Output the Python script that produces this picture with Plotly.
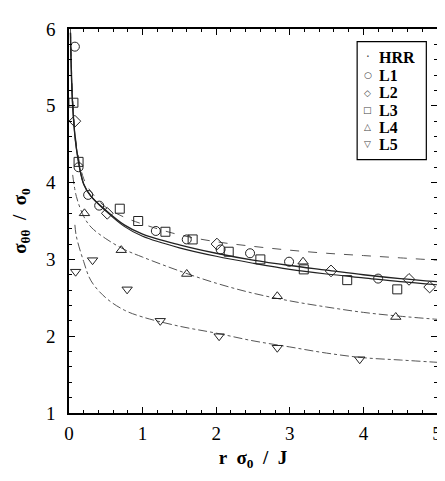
import plotly.graph_objects as go

# ---- data ----
l1_x = [0.08, 0.13, 0.26, 0.41, 1.18, 1.60, 2.06, 2.46, 2.99, 4.20]
l1_y = [5.77, 4.20, 3.84, 3.70, 3.37, 3.26, 3.13, 3.08, 2.97, 2.75]
l2_x = [0.08, 0.52, 2.01, 3.56, 4.62, 4.90]
l2_y = [4.80, 3.60, 3.20, 2.85, 2.74, 2.64]
l3_x = [0.06, 0.13, 0.69, 0.94, 1.31, 1.68, 2.17, 2.60, 3.19, 3.78, 4.46]
l3_y = [5.04, 4.27, 3.66, 3.50, 3.36, 3.26, 3.10, 3.00, 2.87, 2.73, 2.61]
l4_x = [0.21, 0.71, 1.60, 2.83, 3.18, 4.44]
l4_y = [3.60, 3.12, 2.81, 2.52, 2.97, 2.25]
l5_x = [0.09, 0.32, 0.79, 1.24, 2.04, 2.83, 3.95]
l5_y = [2.84, 2.99, 2.61, 2.20, 2.00, 1.85, 1.70]

curve_x = [0.02, 0.05, 0.1, 0.2, 0.3, 0.5, 0.75, 1, 1.5, 2, 2.5, 3, 3.5, 4, 4.5, 5]
hrr_y   = [5.95, 5.00, 4.45, 3.98, 3.82, 3.64, 3.45, 3.33, 3.19, 3.08, 2.99, 2.92, 2.86, 2.80, 2.75, 2.71]
fit2_y  = [5.95, 5.00, 4.45, 3.98, 3.82, 3.63, 3.43, 3.30, 3.15, 3.04, 2.95, 2.87, 2.81, 2.76, 2.71, 2.67]
top_y   = [6.00, 5.10, 4.50, 4.05, 3.88, 3.68, 3.55, 3.46, 3.32, 3.23, 3.17, 3.12, 3.08, 3.05, 3.02, 2.99]
l4c_x   = [0.05, 0.1, 0.2, 0.3, 0.5, 0.75, 1, 1.5, 2, 2.5, 3, 3.5, 4, 4.5, 5]
l4c_y   = [4.10, 3.82, 3.56, 3.42, 3.27, 3.13, 3.03, 2.85, 2.69, 2.56, 2.46, 2.38, 2.31, 2.26, 2.22]
l5c_x   = [0.08, 0.1, 0.2, 0.3, 0.5, 0.75, 1, 1.5, 2, 2.5, 3, 3.5, 4, 4.5, 5]
l5c_y   = [3.45, 3.30, 2.97, 2.72, 2.50, 2.34, 2.25, 2.13, 2.04, 1.94, 1.86, 1.78, 1.72, 1.69, 1.66]

x_ticks = [0, 1, 2, 3, 4, 5]
y_ticks = [1, 2, 3, 4, 5, 6]

legend_names = ["HRR", "L1", "L2", "L3", "L4", "L5"]
legend_symbols = ["·", "○", "◇", "□", "△", "▽"]

FONT = "Liberation Serif"
INK = "#222"

fig = go.Figure()

# curves
fig.add_trace(go.Scatter(x=curve_x, y=top_y, mode="lines", line=dict(color="#555", width=1, dash="dash", shape="spline"), showlegend=False))
fig.add_trace(go.Scatter(x=curve_x, y=hrr_y, mode="lines", line=dict(color=INK, width=1.4, shape="spline"), showlegend=False))
fig.add_trace(go.Scatter(x=curve_x, y=fit2_y, mode="lines", line=dict(color=INK, width=1.1, shape="spline"), showlegend=False))
fig.add_trace(go.Scatter(x=l4c_x, y=l4c_y, mode="lines", line=dict(color="#555", width=1, dash="dashdot", shape="spline"), showlegend=False))
fig.add_trace(go.Scatter(x=l5c_x, y=l5c_y, mode="lines", line=dict(color="#555", width=1, dash="dashdot", shape="spline"), showlegend=False))

for name, xs, ys, sym in [("L1", l1_x, l1_y, "circle-open"),
                          ("L2", l2_x, l2_y, "diamond-open"),
                          ("L3", l3_x, l3_y, "square-open"),
                          ("L4", l4_x, l4_y, "triangle-up-open"),
                          ("L5", l5_x, l5_y, "triangle-down-open")]:
    fig.add_trace(go.Scatter(x=xs, y=ys, mode="markers", name=name, showlegend=False,
                             marker=dict(symbol=sym, size=9, color=INK, line=dict(width=1, color=INK))))

# manual legend (box + text)
fig.add_shape(type="rect", xref="paper", yref="paper", x0=0.783, x1=0.971, y0=0.660, y1=0.967,
              line=dict(color="black", width=1.2), fillcolor="white", layer="above")
row_y = [0.926, 0.880, 0.834, 0.788, 0.744, 0.700]
for i, (nm, sy) in enumerate(zip(legend_names, legend_symbols)):
    fig.add_annotation(xref="paper", yref="paper", x=0.812, y=row_y[i], text=sy, showarrow=False,
                       xanchor="center", yanchor="middle",
                       font=dict(family="DejaVu Sans", size=9 if i else 12, color="#444"))
    fig.add_annotation(xref="paper", yref="paper", x=0.836, y=row_y[i], text=f"<b>{nm}</b>", showarrow=False,
                       xanchor="left", yanchor="middle", height=17,
                       font=dict(family=FONT, size=16, color="black"))

axis_common = dict(showline=True, linecolor="black", linewidth=1.5, mirror="ticks",
                   ticks="inside", ticklen=6, tickcolor="black", showgrid=False, zeroline=False,
                   tickfont=dict(family=FONT, size=19, color="black"))

fig.update_layout(
    width=445, height=481,
    margin=dict(l=61, r=11, t=11, b=76),
    paper_bgcolor="white", plot_bgcolor="white",
    font=dict(family=FONT, color="black"),
    showlegend=False,
    xaxis=dict(range=[0, 5], tickvals=x_ticks, ticktext=[str(v) for v in x_ticks],
               minor=dict(dtick=0.2, ticks="inside", ticklen=3, tickcolor="black"),
               title=dict(text="<b>r  σ<sub>0</sub>  /  J</b>", font=dict(family=FONT, size=19), standoff=8),
               **axis_common),
    yaxis=dict(range=[1, 6], tickvals=y_ticks, ticktext=[str(v) for v in y_ticks],
               minor=dict(dtick=0.2, ticks="inside", ticklen=3, tickcolor="black"),
               title=dict(text="<b>σ<sub>θθ</sub>  /  σ<sub>0</sub></b>", font=dict(family=FONT, size=19), standoff=14),
               **axis_common),
)
fig.update_xaxes(ticklabelstandoff=2)
fig.update_yaxes(ticklabelstandoff=8)

fig.write_html("out.html")
